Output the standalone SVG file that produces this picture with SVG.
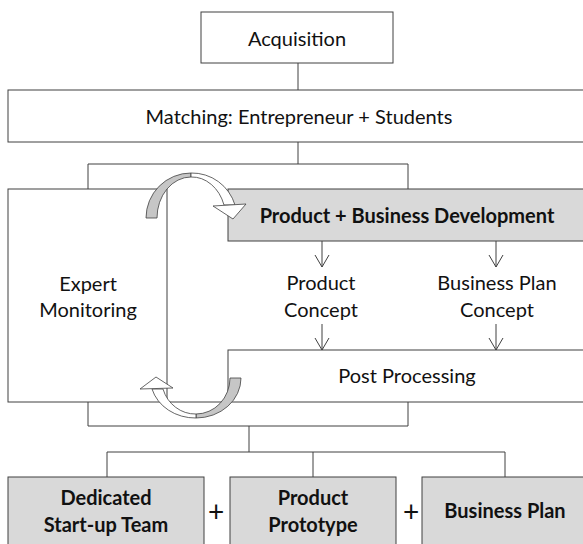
<svg xmlns="http://www.w3.org/2000/svg" width="583" height="544" viewBox="0 0 583 544">
<style>
.box{fill:#ffffff;stroke:#404040;stroke-width:1}
.gbox{fill:#d9d9d9;stroke:#404040;stroke-width:1}
.ln{fill:none;stroke:#404040;stroke-width:1}
.t{font-family:Lato,"Liberation Sans",sans-serif;font-size:20px;fill:#111;text-anchor:middle}
.b{font-weight:bold}
.plus{font-family:Lato,"Liberation Sans",sans-serif;font-size:28px;fill:#111;text-anchor:middle}
.arr{fill:#c6c6c6;stroke:#404040;stroke-width:0.8}
.arw{fill:#ffffff;stroke:#404040;stroke-width:0.8}
</style>
<rect width="583" height="544" fill="#ffffff"/>
<g id="connectors">
<line class="ln" x1="298" y1="63" x2="298" y2="90"/>
<line class="ln" x1="298" y1="142" x2="298" y2="164"/>
<polyline class="ln" points="88,189 88,164 408,164 408,189"/>
<polyline class="ln" points="88,402 88,426 408,426 408,402"/>
<line class="ln" x1="249" y1="426" x2="249" y2="452"/>
<polyline class="ln" points="107,477 107,452 505,452 505,477"/>
<line class="ln" x1="313" y1="452" x2="313" y2="477"/>
<line class="ln" x1="167" y1="402" x2="228" y2="402"/>
<path class="ln" d="M322,241 V267 M315,255 L322,267 L329,255"/>
<path class="ln" d="M496,241 V267 M489,255 L496,267 L503,255"/>
<path class="ln" d="M322,324 V350 M315,338 L322,350 L329,338"/>
<path class="ln" d="M496,324 V350 M489,338 L496,350 L503,338"/>
</g>
<g id="acquisition">
<rect class="box" x="201" y="12" width="192" height="51"/>
<text class="t" x="297" y="46">Acquisition</text>
</g>
<g id="matching">
<rect class="box" x="8" y="90" width="590" height="52"/>
<text class="t" x="299" y="124">Matching: Entrepreneur + Students</text>
</g>
<g id="expert-monitoring">
<rect class="box" x="8" y="189" width="159" height="213"/>
<text class="t" x="88" y="291">Expert</text>
<text class="t" x="88" y="317">Monitoring</text>
</g>
<g id="product-business-development">
<rect class="gbox" x="228" y="189" width="370" height="52"/>
<text class="t b" x="407" y="223">Product + Business Development</text>
</g>
<g id="product-concept">
<text class="t" x="321" y="290">Product</text>
<text class="t" x="321" y="317">Concept</text>
</g>
<g id="business-plan-concept">
<text class="t" x="497" y="290">Business Plan</text>
<text class="t" x="497" y="317">Concept</text>
</g>
<g id="post-processing">
<rect class="box" x="228" y="350" width="370" height="52"/>
<text class="t" x="407" y="383">Post Processing</text>
</g>
<g id="loop-arrows">
<path class="arr" d="M146,218 A45,45 0 0 1 191,173 L191,177 A34,41 0 0 0 157,218 Z"/>
<path class="arw" d="M191,173 A45,45 0 0 1 235,205 L224,205 A34,41 0 0 0 191,177 Z"/>
<polygon class="arw" points="213,206 246,204 233,219"/>
<path class="arr" d="M241,378 A45,40 0 0 1 196,418 L196,414 A34,36 0 0 0 230,378 Z"/>
<path class="arw" d="M196,418 A45,40 0 0 1 152,389 L163,389 A34,36 0 0 0 196,414 Z"/>
<polygon class="arw" points="140,389 173,388 156,377"/>
</g>
<g id="dedicated-team">
<rect class="gbox" x="8" y="477" width="196" height="80"/>
<text class="t b" x="106" y="505">Dedicated</text>
<text class="t b" x="106" y="532">Start-up Team</text>
</g>
<g id="product-prototype">
<rect class="gbox" x="230" y="477" width="166" height="80"/>
<text class="t b" x="313" y="505">Product</text>
<text class="t b" x="313" y="532">Prototype</text>
</g>
<g id="business-plan">
<rect class="gbox" x="422" y="477" width="176" height="80"/>
<text class="t b" x="505" y="518">Business Plan</text>
</g>
<g id="plus-signs">
<text class="plus" x="216" y="522">+</text>
<text class="plus" x="411" y="522">+</text>
</g>
</svg>
